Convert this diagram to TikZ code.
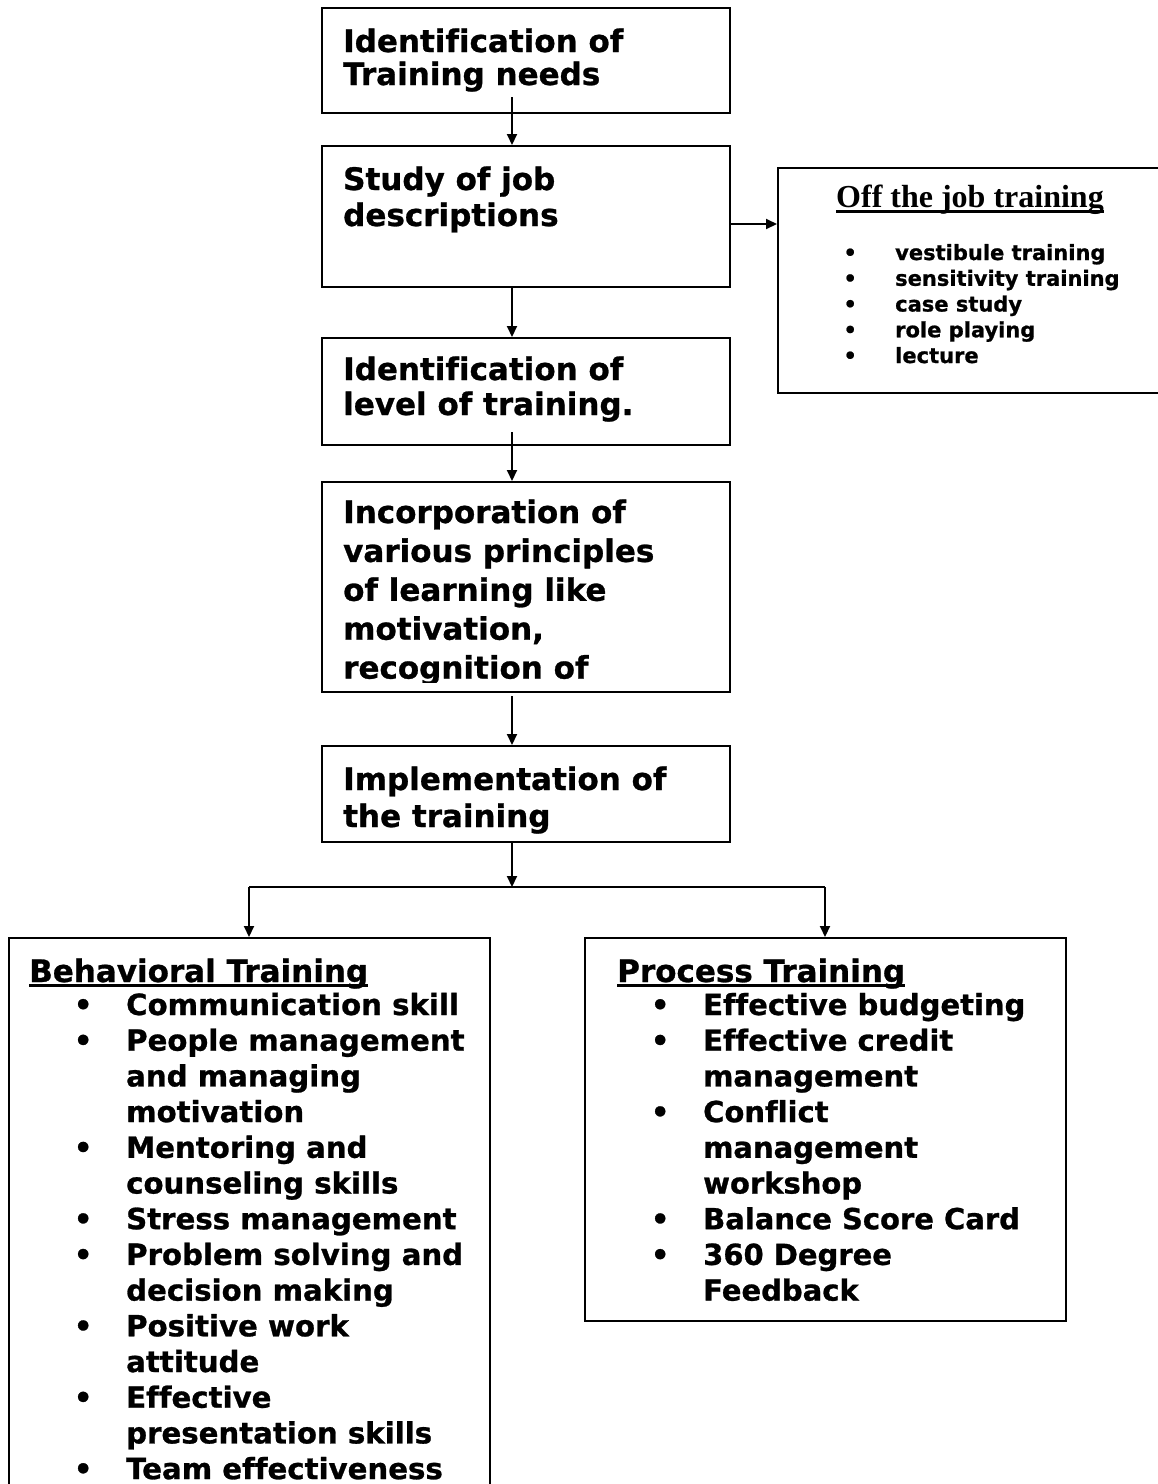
\documentclass[tikz,border=0pt]{standalone}
\usepackage{fontspec}
\setmainfont{DejaVu Sans}[Ligatures=NoCommon,BoldFeatures={FakeBold=0.9}]
\newfontfamily\serifbold{Liberation Serif}[BoldFont=* Bold]
\usetikzlibrary{arrows.meta}
\newlength\bx \newlength\tx
\newcommand\bitem[1]{\makebox[0pt][l]{\hspace*{\bx}\makebox[0pt][c]{•}}\hspace*{\tx}#1}
\newcommand\citem[1]{\hspace*{\tx}#1}
\newcommand\myul[2][5pt]{\setbox0\hbox{#2}\rlap{\rule[-#1]{\wd0}{3pt}}\box0}
\newcommand\rows[1]{\vtop{\halign{##\hfil\cr#1\crcr}}}
\begin{document}
\begin{tikzpicture}[x=1pt,y=-1pt,
  box/.style={draw, line width=2pt, inner sep=0pt, anchor=north west},
  txt/.style={anchor=base west, inner sep=0pt, font=\bfseries\fontsize{31}{33}\selectfont},
  small/.style={anchor=base west, inner sep=0pt, font=\bfseries\fontsize{21}{25.75}\selectfont},
  arr/.style={line width=2pt, -{Triangle[length=11pt,width=10pt]}},
  ln/.style={line width=2pt}]
\useasboundingbox (0,0) rectangle (1158,1484);
\clip (0,0) rectangle (1158,1484);
% boxes
\node[box, minimum width=408pt, minimum height=105pt] (b1) at (321,7) {};
\node[box, minimum width=408pt, minimum height=141pt] (b2) at (321,145) {};
\node[box, minimum width=408pt, minimum height=107pt] (b3) at (321,337) {};
\node[box, minimum width=408pt, minimum height=210pt] (b4) at (321,481) {};
\node[box, minimum width=408pt, minimum height=96pt] (b5) at (321,745) {};
\node[box, minimum width=400pt, minimum height=225pt] (off) at (777,167) {};
\node[box, minimum width=481pt, minimum height=600pt] (beh) at (8,937) {};
\node[box, minimum width=481pt, minimum height=383pt] (proc) at (584,937) {};
% texts
\node[txt] (t1) at (343,52) {\fontsize{31}{33}\selectfont\rows{Identification of\cr Training needs}};
\node[txt] (t2) at (343,190) {\fontsize{31}{36}\selectfont\rows{Study of job\cr descriptions}};
\node[txt] (t3) at (343,380) {\fontsize{31}{35}\selectfont\rows{Identification of\cr level of training.}};
\begin{scope}
\clip (322,482) rectangle (728,682);
\node[txt] (t4) at (343,523) {\fontsize{31}{38.9}\selectfont\rows{Incorporation of\cr various principles\cr of learning like\cr motivation,\cr recognition of}};
\end{scope}
\node[txt] (t5) at (343,790) {\fontsize{31}{37}\selectfont\rows{Implementation of\cr the training}};
% off the job
\node[anchor=base west, inner sep=0pt, font=\serifbold\bfseries\fontsize{32}{36}\selectfont] (offt) at (836,207) {\myul[6.3pt]{Off the job training}};
\node[small] (offl) at (850,260) {\setlength\bx{0pt}\setlength\tx{45pt}\rows{\bitem{vestibule training}\cr \bitem{sensitivity training}\cr \bitem{case study}\cr \bitem{role playing}\cr \bitem{lecture}}};
% behavioral
\node[txt] (behh) at (29,982) {\myul{Behavioral Training}};
\node[txt] (behl) at (29,1015) {\fontsize{29.2}{35.7}\selectfont\setlength\bx{54pt}\setlength\tx{97pt}\rows{%
\bitem{Communication skill}\cr
\bitem{People management}\cr
\citem{and managing}\cr
\citem{motivation}\cr
\bitem{Mentoring and}\cr
\citem{counseling skills}\cr
\bitem{Stress management}\cr
\bitem{Problem solving and}\cr
\citem{decision making}\cr
\bitem{Positive work}\cr
\citem{attitude}\cr
\bitem{Effective}\cr
\citem{presentation skills}\cr
\bitem{Team effectiveness}}};
% process
\node[txt] (proch) at (617,982) {\myul{Process Training}};
\node[txt] (procl) at (617,1015) {\fontsize{29}{35.7}\selectfont\setlength\bx{43pt}\setlength\tx{86pt}\rows{%
\bitem{Effective budgeting}\cr
\bitem{Effective credit}\cr
\citem{management}\cr
\bitem{Conflict}\cr
\citem{management}\cr
\citem{workshop}\cr
\bitem{Balance Score Card}\cr
\bitem{360 Degree}\cr
\citem{Feedback}}};
% connectors
\coordinate (s1) at (512,97);
\coordinate (s2) at (512,288);
\coordinate (s3) at (512,432);
\coordinate (s4) at (512,696);
\coordinate (s5) at (512,841);
\coordinate (j) at (512,887);
\coordinate (jl) at (249,887);
\coordinate (jr) at (825,887);
\draw[arr] (s1) -- (s1 |- b2.north);
\draw[arr] (s2) -- (s2 |- b3.north);
\draw[arr] (s3) -- (s3 |- b4.north);
\draw[arr] (s4) -- (s4 |- b5.north);
\draw[arr] (s5) -- (j);
\draw[ln] (jl) -- (jr);
\draw[arr] (jl) -- (jl |- beh.north);
\draw[arr] (jr) -- (jr |- proc.north);
\coordinate (o1) at (729,224);
\draw[arr] (o1) -- (o1 -| off.west);
\end{tikzpicture}
\end{document}
